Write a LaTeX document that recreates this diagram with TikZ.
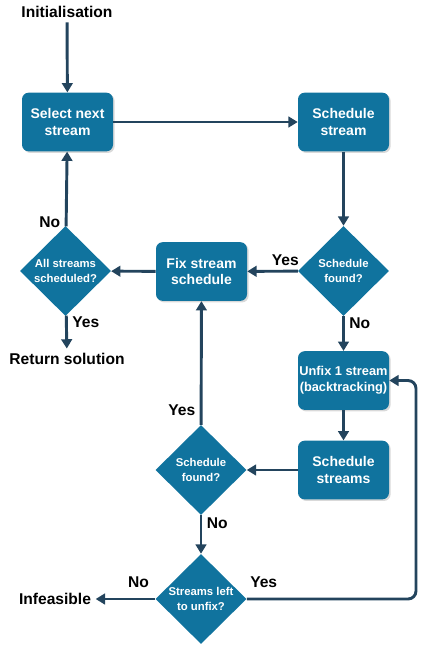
\documentclass[tikz,border=0pt]{standalone}
\usepackage{fontspec}
\setmainfont{Liberation Sans}
\usetikzlibrary{shadows,arrows.meta,positioning,shapes.geometric}
\definecolor{boxblue}{HTML}{10739E}
\definecolor{linedark}{HTML}{23445D}

\tikzset{
  procbox/.style={rectangle, rounded corners=5pt, fill=boxblue, text=white,
    minimum width=68.25pt, minimum height=44pt, align=center, inner sep=0pt,
    font=\fontsize{10.5}{12.5}\selectfont\bfseries,
    drop shadow={shadow xshift=1.2pt, shadow yshift=-1.2pt, fill=black, opacity=0.15}},
  decision/.style={diamond, fill=boxblue, text=white, minimum width=68.25pt,
    minimum height=67.5pt, inner sep=0pt, align=center,
    font=\fontsize{8.5}{11}\selectfont\bfseries},
  plain/.style={font=\fontsize{11.7}{13}\selectfont\bfseries},
  lbl/.style={font=\fontsize{11.7}{13}\selectfont\bfseries, text=black},
  flow/.style={draw=linedark, line width=2.2pt, -{Triangle[width=8pt,length=7pt]}}
}

\begin{document}
\begin{tikzpicture}[x=0.75pt, y=-0.75pt]
  \useasboundingbox (0,0) rectangle (428,650);

  % start and end texts
  \node[plain] (init) at (67,12) {Initialisation};
  \node[plain] (ret) at (67,359) {Return solution};
  \node[plain] (infeas) at (55,599) {Infeasible};

  % main loop
  \node[procbox] (select) at (67.5,122) {Select next\\stream};
  \node[procbox] (sched) at (343.5,122) {Schedule\\stream};
  \node[decision] (foundA) at (343.5,271) {Schedule\\found?};
  \node[procbox] (fix) at (201.5,271.5) {Fix stream\\schedule};
  \node[decision] (allsch) at (65.5,271) {All streams\\scheduled?};

  % backtracking
  \node[procbox, font=\fontsize{9.6}{12}\selectfont\bfseries] (unfix) at (343.5,380.5) {Unfix 1 stream\\(backtracking)};
  \node[procbox] (schedall) at (343.5,470) {Schedule\\streams};
  \node[decision] (foundB) at (201,470) {Schedule\\found?};
  \node[decision] (left) at (201,599) {Streams left\\to unfix?};
  \coordinate (loop) at (416,599);

  \draw[flow] (init) -- (select);
  \draw[flow] (select) -- (sched);
  \draw[flow] (sched) -- (foundA);
  \draw[flow] (foundA) -- node[lbl, pos=0.25, above] {Yes} (fix);
  \draw[flow] (foundA) -- node[lbl, pos=0.2, right] {No} (unfix);
  \draw[flow] (fix) -- (allsch);
  \draw[flow] (allsch) -- node[lbl, pos=0.05, left] {No} (select);
  \draw[flow] (allsch) -- node[lbl, pos=0.2, right] {Yes} (ret);
  \draw[flow] (unfix) -- (schedall);
  \draw[flow] (schedall) -- (foundB);
  \draw[flow] (foundB) -- node[lbl, pos=0.12, left] {Yes} (fix);
  \draw[flow] (foundB) -- node[lbl, pos=0.2, right] {No} (left);
  \draw[flow] (left) -- node[lbl, pos=0.28, above=4pt] {No} (infeas);
  \draw[flow, rounded corners=6pt] (left) -- node[lbl, pos=0.1, above=4pt] {Yes} (loop) |- (unfix);
\end{tikzpicture}
\end{document}
